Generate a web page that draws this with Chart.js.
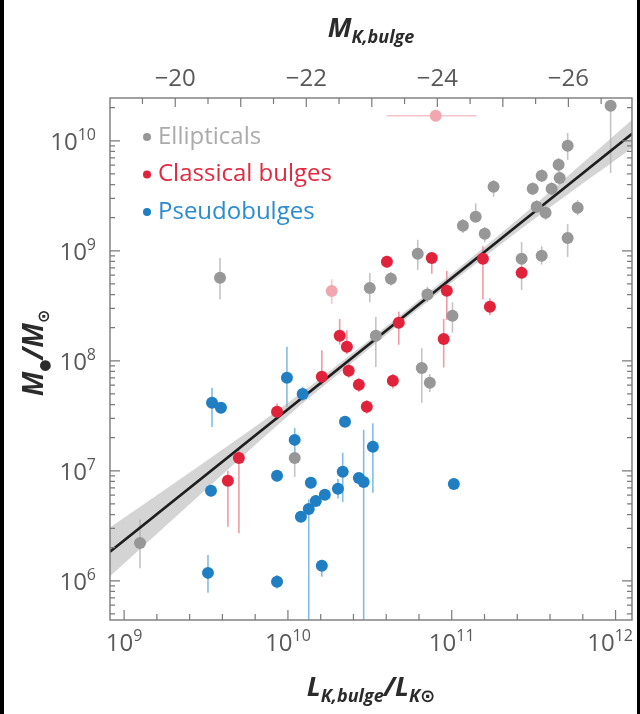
<!DOCTYPE html>
<html>
<head>
<meta charset="utf-8">
<script src="https://cdn.jsdelivr.net/npm/chart.js@4.4.1/dist/chart.umd.min.js"></script>
<style>
  html, body { margin: 0; padding: 0; background: #fff; }
  #wrap { position: relative; width: 640px; height: 714px; }
  .edge { position: absolute; top: 0; bottom: 0; background: #000; }
</style>
</head>
<body>
<div id="wrap">
  <canvas id="chart" width="640" height="714"></canvas>
  <div class="edge" style="left:0;width:4px"></div>
  <div class="edge" style="right:0;width:3px"></div>
</div>
<script>
// ---------- data ----------
const MSUN_K = 3.28;
const xMin = 8.2e8, xMax = 1.26e12;
const yMin = 4.4e5, yMax = 2.45e10;

const xTicks = [1e9, 1e10, 1e11, 1e12];
const yTicks = [1e6, 1e7, 1e8, 1e9, 1e10];
const magTicks = [-20, -22, -24, -26];

const legendNames = ["Ellipticals", "Classical bulges", "Pseudobulges"];

// Ellipticals
const ellL = [3.85e9, 1.25e9, 1.1e10, 3.16e10, 3.44e10, 4.25e10, 6.2e10, 7.1e10, 1.01e11, 6.56e10,
  7.35e10, 1.17e11, 1.4e11, 1.59e11, 1.8e11, 2.67e11, 3.12e11, 3.3e11, 3.54e11, 3.74e11,
  4.07e11, 3.54e11, 4.49e11, 4.56e11, 5.1e11, 5.1e11, 5.87e11, 9.33e11];
const ellM = [5.7e8, 2.2e6, 1.31e7, 4.6e8, 1.69e8, 5.56e8, 9.4e8, 4.0e8, 2.57e8, 8.6e7,
  6.3e7, 1.69e9, 2.04e9, 1.43e9, 3.82e9, 8.45e8, 3.66e9, 2.51e9, 4.8e9, 2.22e9,
  3.66e9, 9.0e8, 6.05e9, 4.6e9, 9.0e9, 1.31e9, 2.46e9, 2.08e10];
const ellLo = [3.6e8, 1.3e6, 8.8e6, 3.4e8, 8.8e7, 4.8e8, 6.7e8, 3.4e8, 1.8e8, 4.15e7,
  5.2e7, 1.45e9, 1.84e9, 1.2e9, 3.1e9, 4.4e8, 3.2e9, 2.2e9, 4.2e9, 1.9e9,
  3.2e9, 7.5e8, 5.2e9, 4.0e9, 6.7e9, 8.8e8, 2.1e9, 5.1e9];
const ellHi = [8.6e8, 3.6e6, 1.6e7, 6.3e8, 2.5e8, 6.4e8, 1.26e9, 4.7e8, 3.4e8, 1.3e8,
  7.6e7, 1.95e9, 2.7e9, 1.65e9, 4.4e9, 1.2e9, 4.2e9, 2.9e9, 5.5e9, 2.6e9,
  4.2e9, 1.1e9, 7.0e9, 5.3e9, 1.18e10, 1.75e9, 2.9e9, 2.35e10];

// Classical bulges
const clsL = [4.3e9, 5.02e9, 8.58e9, 1.61e10, 2.07e10, 2.29e10, 2.35e10, 2.71e10, 3.03e10, 4.37e10,
  4.75e10, 4.02e10, 7.55e10, 9.33e10, 8.93e10, 1.71e11, 1.55e11, 2.67e11];
const clsM = [8.1e6, 1.31e7, 3.44e7, 7.15e7, 1.69e8, 1.34e8, 8.1e7, 6.05e7, 3.82e7, 6.58e7,
  2.22e8, 7.95e8, 8.6e8, 4.33e8, 1.58e8, 3.1e8, 8.45e8, 6.3e8];
const clsLo = [3.1e6, 2.7e6, 2.9e7, 6.0e7, 1.4e8, 1.15e8, 7.0e7, 5.2e7, 3.3e7, 5.6e7,
  1.4e8, 7.0e8, 6.2e8, 2.35e8, 8.7e7, 2.6e8, 3.6e8, 5.5e8];
const clsHi = [1.0e7, 1.6e7, 4.1e7, 1.25e8, 2.4e8, 1.9e8, 9.5e7, 7.0e7, 4.4e7, 7.6e7,
  2.8e8, 9.0e8, 9.5e8, 6.6e8, 2.4e8, 3.7e8, 1.1e9, 7.2e8];

// faint (pale) classical bulges
const paleL = [1.85e10, 7.98e10];
const paleM = [4.3e8, 1.69e10];
const paleLo = [3.3e8, 1.5e10];
const paleHi = [5.5e8, 1.9e10];
const paleXLo = [1.85e10, 4.0e10];
const paleXHi = [1.85e10, 1.42e11];

// Pseudobulges
const psL = [3.25e9, 3.39e9, 3.44e9, 3.9e9, 8.58e9, 8.58e9, 9.86e9, 1.23e10, 1.1e10, 1.2e10,
  1.34e10, 1.48e10, 1.68e10, 1.38e10, 1.61e10, 2.02e10, 2.16e10, 2.23e10, 2.71e10, 2.9e10,
  3.3e10, 1.03e11];
const psM = [1.18e6, 6.58e6, 4.15e7, 3.74e7, 9.0e6, 9.8e5, 7.0e7, 5.0e7, 1.91e7, 3.82e6,
  4.5e6, 5.3e6, 6.05e6, 7.8e6, 1.37e6, 6.85e6, 9.8e6, 2.79e7, 8.6e6, 7.9e6,
  1.65e7, 7.6e6];
const psLo = [7.8e5, 5.8e6, 2.5e7, 3.3e7, 8.0e6, 8.5e5, 3.8e7, 4.3e7, 1.46e7, 3.4e6,
  1.0e5, 4.7e6, 5.4e6, 6.9e6, 1.09e6, 5.6e6, 5.2e6, 2.5e7, 7.7e6, 1.0e5,
  6.3e6, 6.8e6];
const psHi = [1.72e6, 7.4e6, 5.7e7, 4.2e7, 1.0e7, 1.13e6, 1.34e8, 5.8e7, 2.45e7, 4.3e6,
  5.5e6, 6.0e6, 6.8e6, 8.8e6, 1.55e6, 8.4e6, 1.46e7, 3.1e7, 9.6e6, 2.36e7,
  2.7e7, 8.5e6];

// fit line and its uncertainty band
const fitL = [8.2e8, 1.26e12];
const fitM = [1.84e6, 1.16e10];
const bandL = [8.2e8, 3e9, 1e10, 3e10, 1e11, 3e11, 1.26e12];
const bandLo = [1.1e6, 6.3e6, 3.15e7, 1.22e8, 5.14e8, 1.82e9, 8.6e9];
const bandHi = [3.05e6, 1.16e7, 4.15e7, 1.47e8, 6.18e8, 2.4e9, 1.55e10];

const grayCol = "#979797", redCol = "#e1223b", blueCol = "#1f7fc2", paleCol = "#f2a6b0";
const FONT = '"Open Sans", "DejaVu Sans", sans-serif';
const TICK_COLOR = "#595959";

// ---------- helpers ----------
const toXY = (xs, ys) => xs.map((x, i) => ({ x: x, y: ys[i] }));
const mag = (L) => MSUN_K - 2.5 * Math.log10(L);

// draws a run of text pieces with their own fonts; align = "center" | "right"
// maxRight keeps a centred label inside the frame
function drawParts(ctx, parts, x, y, align, maxRight) {
  let total = 0;
  parts.forEach((p) => { ctx.font = p.font; p.w = ctx.measureText(p.t).width; total += p.w; });
  let cx = align === "right" ? x - total : x - total / 2;
  if (maxRight !== undefined && cx + total > maxRight) cx = maxRight - total;
  ctx.textAlign = "left";
  parts.forEach((p) => {
    ctx.font = p.font;
    ctx.fillText(p.t, cx, y + (p.dy || 0));
    cx += p.w;
  });
}

const baseFont = "24px " + FONT, supFont = "16px " + FONT;
const powerLabel = (v) => [
  { t: "10", font: baseFont },
  { t: String(Math.round(Math.log10(v))), font: supFont, dy: -10 },
];

// error bars drawn under the markers
const errorBars = {
  id: "errorBars",
  beforeDatasetsDraw(chart) {
    const { ctx, chartArea, scales } = chart;
    ctx.save();
    ctx.beginPath();
    ctx.rect(chartArea.left, chartArea.top, chartArea.right - chartArea.left, chartArea.bottom - chartArea.top);
    ctx.clip();
    ctx.lineWidth = 1.6;
    chart.data.datasets.forEach((ds) => {
      if (!ds.errLo) return;
      ctx.strokeStyle = ds.errColor;
      ds.data.forEach((p, i) => {
        const px = scales.x.getPixelForValue(p.x);
        ctx.beginPath();
        ctx.moveTo(px, scales.y.getPixelForValue(ds.errLo[i]));
        ctx.lineTo(px, scales.y.getPixelForValue(ds.errHi[i]));
        ctx.stroke();
        if (ds.xErrLo && ds.xErrLo[i] !== ds.xErrHi[i]) {
          const py = scales.y.getPixelForValue(p.y);
          ctx.beginPath();
          ctx.moveTo(scales.x.getPixelForValue(ds.xErrLo[i]), py);
          ctx.lineTo(scales.x.getPixelForValue(ds.xErrHi[i]), py);
          ctx.stroke();
        }
      });
    });
    ctx.restore();
  },
};

// frame, inward ticks, tick labels, axis titles and legend
const decorations = {
  id: "decorations",
  afterDraw(chart) {
    const { ctx, chartArea: a, scales } = chart;
    const xs = scales.x, ys = scales.y, ts = scales.xTop;
    ctx.save();
    ctx.strokeStyle = "#7a7a7a";
    ctx.lineWidth = 1.4;
    ctx.strokeRect(a.left, a.top, a.right - a.left, a.bottom - a.top);

    ctx.lineWidth = 1.2;
    ctx.beginPath();
    // left / right: log minor ticks
    for (let d = 5; d <= 10; d++) {
      for (let k = 1; k <= 9; k++) {
        const v = k * Math.pow(10, d);
        if (v < yMin || v > yMax) continue;
        const py = ys.getPixelForValue(v);
        const len = k === 1 ? 10 : 5;
        ctx.moveTo(a.left, py); ctx.lineTo(a.left + len, py);
        ctx.moveTo(a.right, py); ctx.lineTo(a.right - len, py);
      }
    }
    // bottom: every 0.2 dex
    for (let i = 45; i <= 60; i++) {
      const v = Math.pow(10, i / 5);
      if (v < xMin || v > xMax) continue;
      const px = xs.getPixelForValue(v);
      const len = i % 5 === 0 ? 10 : 6;
      ctx.moveTo(px, a.bottom); ctx.lineTo(px, a.bottom - len);
    }
    // top: every 0.5 mag
    for (let m = -19; m >= -27; m -= 0.5) {
      if (m > ts.max || m < ts.min) continue;
      const px = ts.getPixelForValue(m);
      const len = Number.isInteger(m) ? 9 : 6;
      ctx.moveTo(px, a.top); ctx.lineTo(px, a.top + len);
    }
    ctx.stroke();

    // tick labels
    ctx.fillStyle = TICK_COLOR;
    ctx.textBaseline = "alphabetic";
    yTicks.forEach((v) => drawParts(ctx, powerLabel(v), a.left - 14, ys.getPixelForValue(v) + 9, "right"));
    xTicks.forEach((v) =>
      drawParts(ctx, powerLabel(v), xs.getPixelForValue(v), a.bottom + 31, "center", a.right + 1));
    magTicks.forEach((m) =>
      drawParts(ctx, [{ t: "\u2212" + Math.abs(m), font: baseFont }], ts.getPixelForValue(m), a.top - 12, "center"));

    // axis titles
    ctx.fillStyle = "#2b2b2b";
    const big = "italic bold 27px " + FONT;
    const small = "italic bold 18px " + FONT;
    const cx = (a.left + a.right) / 2;
    drawParts(ctx, [{ t: "M", font: big }, { t: "K,bulge", font: small, dy: 6 }], cx, 37, "center");
    drawParts(ctx, [
      { t: "L", font: big }, { t: "K,bulge", font: small, dy: 6 },
      { t: "/L", font: big }, { t: "K⊙", font: small, dy: 6 },
    ], cx, 696, "center");
    ctx.save();
    ctx.translate(43, (a.top + a.bottom) / 2 - 6);
    ctx.rotate(-Math.PI / 2);
    drawParts(ctx, [
      { t: "M", font: "italic bold 28px " + FONT }, { t: "●", font: "bold 14px " + FONT, dy: 6 },
      { t: "/M", font: "italic bold 28px " + FONT }, { t: "⊙", font: "bold 16px " + FONT, dy: 6 },
    ], 0, 0, "center");
    ctx.restore();

    // legend inside the plot
    const legendDot = [grayCol, redCol, blueCol];
    const legendText = ["#ababab", "#e3283f", "#2a8bd0"];
    ctx.textBaseline = "middle";
    ctx.textAlign = "left";
    ctx.font = "24px " + FONT;
    legendNames.forEach((name, i) => {
      const y = a.top + 39 + i * 37.5;
      ctx.fillStyle = legendDot[i];
      ctx.beginPath();
      ctx.arc(a.left + 37, y, 4, 0, Math.PI * 2);
      ctx.fill();
      ctx.fillStyle = legendText[i];
      ctx.fillText(name, a.left + 48, y);
    });
    ctx.restore();
  },
};

// ---------- chart ----------
const ctx = document.getElementById("chart");
const pointStyle = (c) => ({ backgroundColor: c, borderWidth: 0, pointRadius: 6, pointHoverRadius: 6 });
const hiddenTicks = { display: false };

new Chart(ctx, {
  type: "scatter",
  data: {
    datasets: [
      {
        label: "band-lo", type: "line", data: toXY(bandL, bandLo), borderWidth: 0, pointRadius: 0,
        cubicInterpolationMode: "monotone", fill: false, order: 10,
      },
      {
        label: "band-hi", type: "line", data: toXY(bandL, bandHi), borderWidth: 0, pointRadius: 0,
        cubicInterpolationMode: "monotone", fill: "-1", backgroundColor: "rgba(170,170,170,0.5)", order: 9,
      },
      {
        label: "fit", type: "line", data: toXY(fitL, fitM), borderColor: "#1e1e1e", borderWidth: 2.6,
        pointRadius: 0, fill: false, order: 8,
      },
      Object.assign({ label: "pale", data: toXY(paleL, paleM), errLo: paleLo, errHi: paleHi,
        xErrLo: paleXLo, xErrHi: paleXHi, errColor: "#f6c3c9", order: 4 }, pointStyle(paleCol)),
      Object.assign({ label: legendNames[0], data: toXY(ellL, ellM), errLo: ellLo, errHi: ellHi,
        errColor: "#c4c4c4", order: 3 }, pointStyle(grayCol)),
      Object.assign({ label: legendNames[1], data: toXY(clsL, clsM), errLo: clsLo, errHi: clsHi,
        errColor: "#f19aa5", order: 2 }, pointStyle(redCol)),
      Object.assign({ label: legendNames[2], data: toXY(psL, psM), errLo: psLo, errHi: psHi,
        errColor: "#82bde4", order: 1 }, pointStyle(blueCol)),
    ],
  },
  options: {
    responsive: false,
    animation: false,
    layout: { padding: { right: 8 } },
    plugins: { legend: { display: false }, tooltip: { enabled: false } },
    scales: {
      x: {
        type: "logarithmic", position: "bottom", min: xMin, max: xMax,
        grid: { display: false, drawTicks: false }, border: { display: false },
        afterFit: (s) => { s.height = 94; },
        ticks: hiddenTicks,
      },
      xTop: {
        type: "linear", position: "top", axis: "x", reverse: true,
        min: mag(xMax), max: mag(xMin),
        grid: { display: false, drawTicks: false }, border: { display: false },
        afterFit: (s) => { s.height = 98; },
        ticks: hiddenTicks,
      },
      y: {
        type: "logarithmic", position: "left", min: yMin, max: yMax,
        grid: { display: false, drawTicks: false }, border: { display: false },
        afterFit: (s) => { s.width = 110; },
        ticks: hiddenTicks,
      },
    },
  },
  plugins: [errorBars, decorations],
});
</script>
</body>
</html>
